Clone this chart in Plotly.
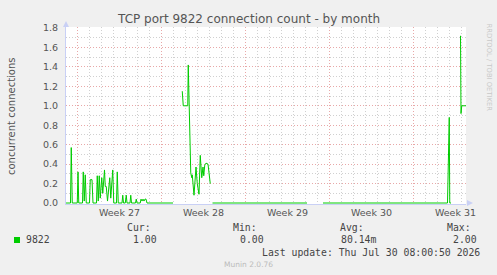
import plotly.graph_objects as go

# ---------------- data ----------------
times = [
    "2026-06-28 01:00", "2026-06-28 10:00", "2026-06-28 11:30", "2026-06-28 13:30",
    "2026-06-28 23:30", "2026-06-29 01:00", "2026-06-29 02:30", "2026-06-29 10:00",
    "2026-06-29 11:30", "2026-06-29 13:30", "2026-06-29 15:30", "2026-06-29 17:30",
    "2026-06-30 00:00", "2026-06-30 01:30", "2026-06-30 05:00", "2026-06-30 07:00",
    "2026-06-30 14:00", "2026-06-30 15:30", "2026-06-30 17:30", "2026-06-30 19:30",
    "2026-06-30 21:30", "2026-07-01 00:30", "2026-07-01 02:30", "2026-07-01 06:00",
    "2026-07-01 07:30", "2026-07-01 09:30", "2026-07-01 12:00", "2026-07-01 16:30",
    "2026-07-01 18:30", "2026-07-01 22:30", "2026-07-02 00:30", "2026-07-02 06:00",
    "2026-07-02 07:30", "2026-07-02 09:30", "2026-07-02 17:00", "2026-07-02 18:30",
    "2026-07-02 20:00", "2026-07-02 23:30", "2026-07-03 01:30", "2026-07-03 03:00",
    "2026-07-03 09:00", "2026-07-03 10:30", "2026-07-03 12:00", "2026-07-03 20:00",
    "2026-07-03 21:30", "2026-07-03 23:00", "2026-07-04 05:30", "2026-07-04 07:00",
    "2026-07-04 09:00", "2026-07-04 11:00", "2026-07-04 13:00", "2026-07-04 15:00",
    "2026-07-04 17:00", "2026-07-04 19:00", "2026-07-06 23:00", "2026-07-07 03:00",
    "2026-07-07 17:30", "2026-07-07 19:30", "2026-07-08 04:30", "2026-07-08 05:30",
    "2026-07-08 10:30", "2026-07-08 12:30", "2026-07-08 13:30", "2026-07-08 17:00",
    "2026-07-08 21:00", "2026-07-08 23:30", "2026-07-09 03:00", "2026-07-09 05:30",
    "2026-07-09 08:30", "2026-07-09 11:00", "2026-07-09 12:30", "2026-07-09 14:30",
    "2026-07-09 17:00", "2026-07-09 21:00", "2026-07-10 01:30", "2026-07-10 03:00",
    "2026-07-10 06:00", "2026-07-18 03:00", "2026-07-18 12:00", "2026-07-19 11:00",
    "2026-07-29 20:00", "2026-07-29 23:30", "2026-07-30 00:30", "2026-07-30 03:00",
    "2026-07-30 05:00", "2026-07-30 22:00", "2026-07-30 23:00", "2026-07-31 00:30",
    "2026-07-31 09:00",
]
values = [
    0, 0, 0.57, 0,
    0, 0.32, 0, 0,
    0.32, 0.02, 0.29, 0,
    0, 0.24, 0.24, 0,
    0, 0.28, 0.02, 0.28,
    0.05, 0.26, 0.10, 0.34,
    0.17, 0.17, 0.02, 0.26,
    0.05, 0.34, 0, 0,
    0.32, 0, 0, 0.08,
    0, 0, 0.08, 0,
    0, 0.08, 0, 0,
    0.04, 0, 0, 0.04,
    0.02, 0.04, 0.02, 0.04,
    0.04, 0, 0, None,
    1.15, 1.00, 1.00, 1.42,
    0.31, 0.26, 0.29, 0.08,
    0.37, 0.20, 0.09, 0.49,
    0.26, 0.37, 0.28, 0.39,
    0.41, 0.40, 0.20, None,
    0, 0, None, 0,
    0, 0.88, 0, 0,
    None, 1.72, 0.92, 1.00,
    1.00,
]

x_range = ["2026-06-28 01:00", "2026-07-31 09:00"]
week_starts = ["2026-06-29", "2026-07-06", "2026-07-13", "2026-07-20", "2026-07-27"]
week_mids = ["2026-07-02 12:00", "2026-07-09 12:00", "2026-07-16 12:00",
             "2026-07-23 12:00", "2026-07-30 12:00"]
week_labels = ["Week 27", "Week 28", "Week 29", "Week 30", "Week 31"]
y_ticks = [0.0, 0.2, 0.4, 0.6, 0.8, 1.0, 1.2, 1.4, 1.6, 1.8]

title = "TCP port 9822 connection count - by month"
y_title = "concurrent connections"
series_name = "9822"
stat_headers = ["Cur:", "Min:", "Avg:", "Max:"]
stat_values = ["1.00", "0.00", "80.14m", "2.00"]
last_update = "Last update: Thu Jul 30 08:00:50 2026"
footer = "Munin 2.0.76"
side_text = "RRDTOOL / TOBI OETIKER"

# ---------------- layout geometry ----------------
W, H = 497, 275
L, R, T, B = 66, 466, 27, 204
def px(x):
    return (x - L) / (R - L)
def py(y):
    return (B - y) / (B - T)

GREEN = "#00CC00"
AXIS = "#C9D0F5"
TXT = "#555555"
MGRID = "#E8A8A8"
GRID = "#D0D0D0"
SANS = "DejaVu Sans"
MONO = "DejaVu Sans Mono"

fig = go.Figure()
fig.add_trace(go.Scatter(
    x=times, y=values, mode="lines", connectgaps=False,
    line=dict(color=GREEN, width=1), xaxis="x2", yaxis="y",
    hoverinfo="skip", showlegend=False,
))
# invisible trace so the label axis is drawn
fig.add_trace(go.Scatter(x=x_range, y=[None, None], xaxis="x", yaxis="y",
                         mode="lines", showlegend=False, hoverinfo="skip"))

fig.update_layout(
    width=W, height=H,
    margin=dict(l=L, r=W - R, t=T, b=H - B, pad=0),
    paper_bgcolor="#F0F0F0", plot_bgcolor="#FFFFFF",
    showlegend=False,
    xaxis=dict(
        type="date", range=x_range, tickvals=week_mids, ticktext=week_labels,
        showgrid=False, zeroline=False, ticks="", showline=True,
        linecolor=AXIS, linewidth=1, layer="below traces",
        tickfont=dict(family=SANS, size=9.5, color=TXT),
    ),
    xaxis2=dict(
        type="date", range=x_range, overlaying="x", anchor="y",
        tickvals=week_starts, showticklabels=False, ticks="",
        showgrid=True, gridcolor=MGRID, griddash="1px,2px", gridwidth=1,
        minor=dict(dtick=86400000, tick0="2026-06-29", showgrid=True,
                   gridcolor=GRID, griddash="1px,2px", gridwidth=1),
        zeroline=False, showline=False, layer="below traces",
    ),
    yaxis=dict(
        range=[-0.0103, 1.8103], tickvals=y_ticks, tickformat=".1f",
        showgrid=True, gridcolor=MGRID, griddash="1px,2px", gridwidth=1,
        minor=dict(dtick=0.1, tick0=0, showgrid=True, gridcolor=GRID,
                   griddash="1px,2px", gridwidth=1),
        zeroline=False, showline=True, linecolor=AXIS, linewidth=1,
        ticks="", ticklabelstandoff=5, layer="below traces",
        tickfont=dict(family=SANS, size=9.5, color=TXT),
    ),
)

ann = []
def text(x, y, s, size, color=TXT, family=SANS, xanchor="left", angle=0):
    ann.append(dict(x=px(x), y=py(y), xref="paper", yref="paper", text=s,
                    showarrow=False, xanchor=xanchor, yanchor="middle",
                    textangle=angle, borderpad=0,
                    font=dict(family=family, size=size, color=color)))

text(248.5, 19, title, 12, color="#555555", xanchor="center")
text(12, 116, y_title, 10, xanchor="center", angle=-90)
text(488.5, 68, side_text, 6.8, color="#C8C8C8", xanchor="center", angle=90)

header_x = [127, 233, 340, 447]
value_x = [133, 240, 341, 453]
for hx, h in zip(header_x, stat_headers):
    text(hx - 1, 227.5, h, 9.8, color="#444444", family=MONO)
for vx, v in zip(value_x, stat_values):
    text(vx - 1, 240, v, 9.8, color="#444444", family=MONO)
text(25, 240, series_name, 9.8, color="#444444", family=MONO)
text(261, 252.5, last_update, 9.8, color="#444444", family=MONO)
text(248, 264, footer, 7.5, color="#BBBBBB", xanchor="center")

fig.update_layout(annotations=ann)

shapes = [
    # legend colour box
    dict(type="rect", xref="paper", yref="paper",
         x0=px(14), x1=px(20), y0=py(243), y1=py(237),
         fillcolor=GREEN, line=dict(width=0)),
    # axis arrows
    dict(type="path", xref="paper", yref="paper",
         path=f"M {px(63)} {py(27)} L {px(69)} {py(27)} L {px(66)} {py(21)} Z",
         fillcolor=AXIS, line=dict(width=0)),
    dict(type="path", xref="paper", yref="paper",
         path=f"M {px(467)} {py(200)} L {px(467)} {py(206)} L {px(473)} {py(203)} Z",
         fillcolor=AXIS, line=dict(width=0)),
]
fig.update_layout(shapes=shapes)

fig.write_html("out.html")
